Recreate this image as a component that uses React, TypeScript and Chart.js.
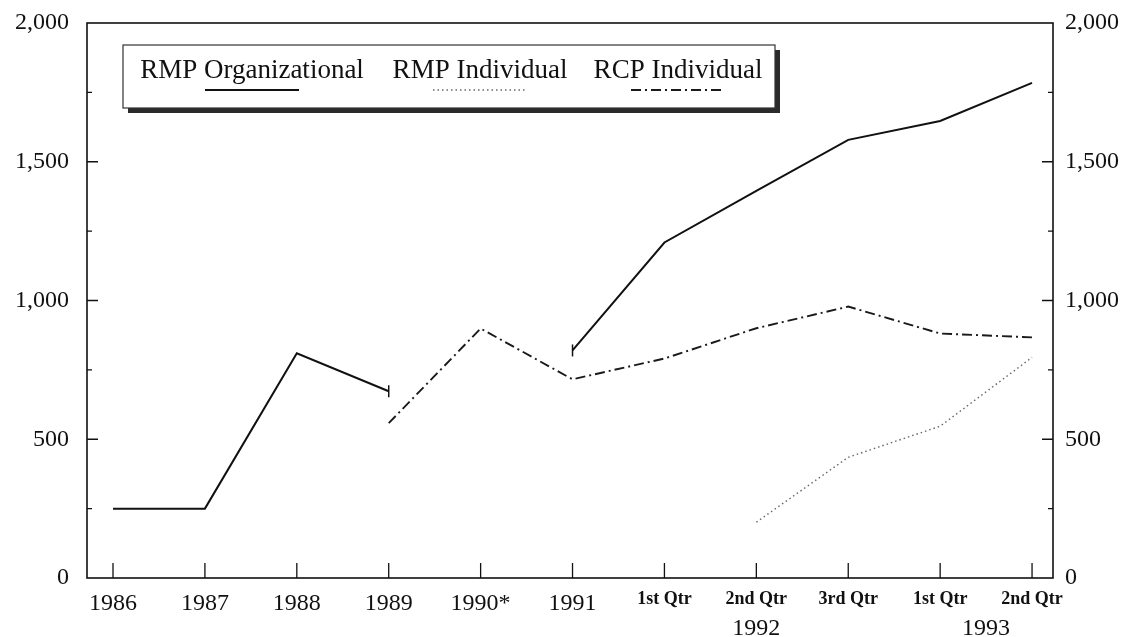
import React, { useEffect, useRef } from 'react';
import { Chart, registerables } from 'chart.js';

Chart.register(...registerables);

const categories = ['1986', '1987', '1988', '1989', '1990*', '1991', '1st Qtr', '2nd Qtr', '3rd Qtr', '1st Qtr', '2nd Qtr'];
const yearGroupLabels = ['1992', '1993'];
const yearGroupFrom = [6, 9];
const yearGroupTo = [8, 10];
const rmpOrganizational = [250, 250, 810, 673, null, 820, 1209, 1395, 1579, 1647, 1784];
const rmpIndividual = [null, null, null, null, null, null, null, 201, 435, 547, 795];
const rcpIndividual = [null, null, null, 558, 899, 716, 791, 900, 978, 881, 867];
const seriesNames = ['RMP Organizational', 'RMP Individual', 'RCP Individual'];
const yMajorTicks = [0, 500, 1000, 1500, 2000];
const yMinorTicks = [250, 750, 1250, 1750];

const FONT = '"Liberation Serif", "Times New Roman", serif';
const INK = '#111';

const toPoints = (arr: (number | null)[]) => arr.map((y, i) => ({ x: i, y }));

const decorPlugin = {
  id: 'decor',
  afterDatasetsDraw(chart: any) {
    const { ctx, chartArea } = chart;
    const { left, right, top, bottom } = chartArea;
    const y = chart.scales.y;
    const x = chart.scales.x;
    ctx.save();
    ctx.strokeStyle = INK;
    ctx.lineWidth = 1.6;
    ctx.strokeRect(left, top, right - left, bottom - top);
    ctx.lineWidth = 1.3;
    ctx.beginPath();
    yMajorTicks.forEach((v) => {
      if (v === 0 || v === 2000) return;
      const py = y.getPixelForValue(v);
      ctx.moveTo(left, py); ctx.lineTo(left + 11, py);
      ctx.moveTo(right, py); ctx.lineTo(right - 11, py);
    });
    yMinorTicks.forEach((v) => {
      const py = y.getPixelForValue(v);
      ctx.moveTo(left, py); ctx.lineTo(left + 5, py);
      ctx.moveTo(right, py); ctx.lineTo(right - 5, py);
    });
    categories.forEach((_, i) => {
      const px = x.getPixelForValue(i);
      ctx.moveTo(px, bottom); ctx.lineTo(px, bottom - 15);
    });
    ctx.stroke();
    ctx.fillStyle = INK;
    ctx.font = `24px ${FONT}`;
    ctx.textAlign = 'center';
    ctx.textBaseline = 'alphabetic';
    yearGroupLabels.forEach((lab, k) => {
      const px = x.getPixelForValue((yearGroupFrom[k] + yearGroupTo[k]) / 2);
      ctx.fillText(lab, px, 635);
    });
    ctx.restore();
  },
  afterDraw(chart: any) {
    const { ctx } = chart;
    const bx = 123, by = 45, bw = 652, bh = 63;
    ctx.save();
    ctx.fillStyle = '#2a2a2a';
    ctx.fillRect(bx + 5, by + 5, bw, bh);
    ctx.fillStyle = '#fff';
    ctx.fillRect(bx, by, bw, bh);
    ctx.strokeStyle = '#333';
    ctx.lineWidth = 1.2;
    ctx.strokeRect(bx, by, bw, bh);
    const centers = [252, 480, 678];
    ctx.font = `27px ${FONT}`;
    ctx.fillStyle = INK;
    ctx.textAlign = 'center';
    ctx.textBaseline = 'alphabetic';
    chart.data.datasets.forEach((ds: any, i: number) => {
      const cx = centers[i];
      ctx.fillText(ds.label, cx, 78);
      ctx.save();
      ctx.strokeStyle = ds.borderColor;
      ctx.lineWidth = ds.borderWidth;
      ctx.setLineDash(ds.borderDash || []);
      ctx.beginPath();
      ctx.moveTo(cx - 47, 90);
      ctx.lineTo(cx + 47, 90);
      ctx.stroke();
      ctx.restore();
    });
    ctx.restore();
  },
};

const zeroPad = (scale: any) => {
  scale.paddingTop = 0;
  scale.paddingBottom = 0;
  scale.paddingLeft = 0;
  scale.paddingRight = 0;
};

export default function App() {
  const ref = useRef<HTMLCanvasElement>(null);
  useEffect(() => {
    document.body.style.margin = '0';
    const canvas = ref.current!;
    const capIdx = [3, 5];
    const chart = new Chart(canvas, {
      type: 'line',
      data: {
        datasets: [
          {
            label: seriesNames[0],
            data: toPoints(rmpOrganizational),
            borderColor: '#111',
            borderWidth: 2,
            borderDash: [],
            spanGaps: false,
            pointStyle: 'line',
            rotation: 90,
            pointRadius: rmpOrganizational.map((_, i) => (capIdx.includes(i) ? 6 : 0)),
            pointBorderColor: '#111',
            pointBorderWidth: 1.5,
          } as any,
          {
            label: seriesNames[1],
            data: toPoints(rmpIndividual),
            borderColor: '#666',
            borderWidth: 1.4,
            borderDash: [1.5, 3],
            pointRadius: 0,
          },
          {
            label: seriesNames[2],
            data: toPoints(rcpIndividual),
            borderColor: '#1a1a1a',
            borderWidth: 1.9,
            borderDash: [10, 4, 2, 4],
            pointRadius: 0,
          },
        ],
      },
      options: {
        animation: false,
        responsive: false,
        events: [],
        layout: { padding: { top: 23, left: 0, right: 0, bottom: 0 } },
        plugins: { legend: { display: false }, tooltip: { enabled: false } },
        scales: {
          x: {
            type: 'linear',
            min: -0.283,
            max: 10.228,
            grid: { display: false, drawTicks: false },
            border: { display: false },
            afterBuildTicks: (scale: any) => {
              scale.ticks = categories.map((_, i) => ({ value: i }));
            },
            afterFit: (scale: any) => { scale.height = 59; zeroPad(scale); },
            ticks: {
              autoSkip: false,
              maxRotation: 0,
              padding: 11,
              color: INK,
              callback: (v: any) => categories[v as number] ?? '',
              font: (c: any) => (c.index >= 6
                ? { family: FONT, size: 18, weight: 'bold' }
                : { family: FONT, size: 24 }),
            },
          } as any,
          y: {
            position: 'left',
            min: 0,
            max: 2000,
            grid: { display: false, drawTicks: false },
            border: { display: false },
            afterBuildTicks: (scale: any) => {
              scale.ticks = yMajorTicks.map((v) => ({ value: v }));
            },
            afterFit: (scale: any) => { scale.width = 87; zeroPad(scale); },
            ticks: {
              padding: 18,
              color: INK,
              font: { family: FONT, size: 24 },
              callback: (v: any) => Number(v).toLocaleString('en-US'),
            },
          } as any,
          y2: {
            position: 'right',
            min: 0,
            max: 2000,
            grid: { display: false, drawTicks: false },
            border: { display: false },
            afterBuildTicks: (scale: any) => {
              scale.ticks = yMajorTicks.map((v) => ({ value: v }));
            },
            afterFit: (scale: any) => { scale.width = 71; zeroPad(scale); },
            ticks: {
              padding: 12,
              color: INK,
              font: { family: FONT, size: 24 },
              callback: (v: any) => Number(v).toLocaleString('en-US'),
            },
          } as any,
        },
      },
      plugins: [decorPlugin],
    });
    return () => chart.destroy();
  }, []);
  return <canvas ref={ref} width={1124} height={637} style={{ display: 'block' }} />;
}
